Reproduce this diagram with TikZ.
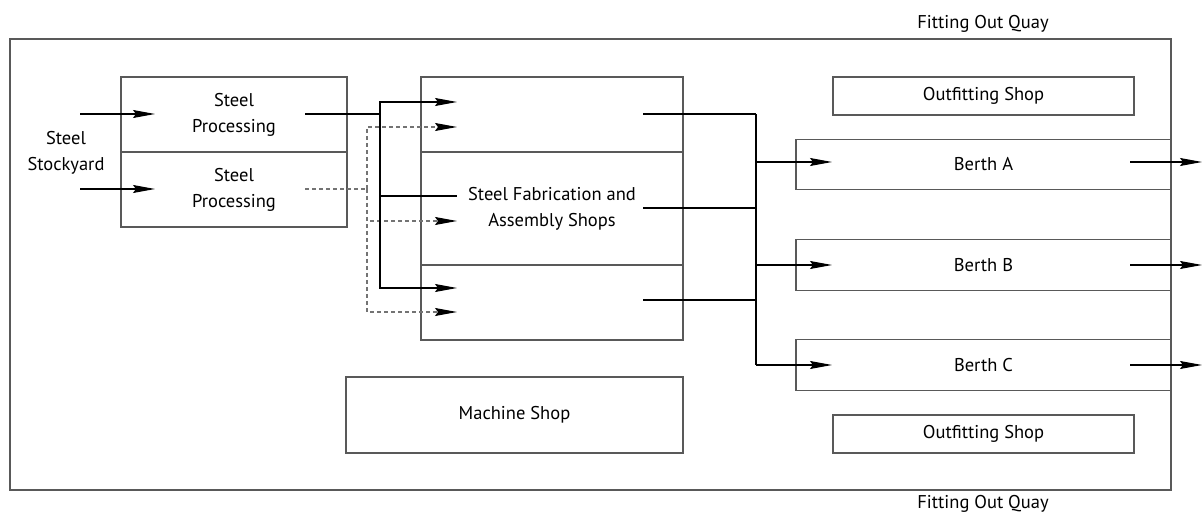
\documentclass[tikz,border=0pt]{standalone}
\usepackage{fontspec}
\setmainfont{PT Sans}
\usetikzlibrary{arrows.meta,calc,positioning}

\begin{document}
\begin{tikzpicture}[x=1pt,y=-1pt,
  >={Stealth[length=22pt,width=8pt,inset=3pt,color=black]},
  shop/.style={draw=black!65,line width=1.2pt,rectangle,inner sep=0pt,
    font=\fontsize{18.5}{26}\selectfont,align=center},
  lbl/.style={font=\fontsize{18.5}{25.5}\selectfont,align=center},
  flow/.style={line width=1.1pt},
  dflow/.style={line width=1.1pt,draw=black!55,dash pattern=on 4pt off 3pt}]
  \useasboundingbox (0,0) rectangle (1203,513);
  \node[shop,minimum width=1161pt,minimum height=451pt] (quay) at (590.5,264.5) {};
  \node[lbl] (quayN) at (983,24) {Fitting Out Quay};
  \node[lbl] (quayS) at (983,504) {Fitting Out Quay};
  \node[lbl] (yard) at (66,153) {Steel\\Stockyard};
  \foreach \n/\y in {1/114.5,2/189.5} {
    \node[shop,minimum width=226pt,minimum height=75pt] (sp\n) at (234,\y) {Steel\\Processing};
  }
  \node[shop,minimum width=262pt,minimum height=263pt] (fab) at (552,208.5) {Steel Fabrication and\\Assembly Shops};
  \draw[draw=black!65,line width=1.2pt] (fab.west |- 0,152) -- (fab.east |- 0,152);
  \draw[draw=black!65,line width=1.2pt] (fab.west |- 0,265) -- (fab.east |- 0,265);
  \node[shop,minimum width=337pt,minimum height=76pt] (mach) at (514.5,415) {Machine Shop};
  \node[shop,minimum width=301pt,minimum height=38pt] (outN) at (983.5,96) {Outfitting Shop};
  \node[shop,minimum width=301pt,minimum height=38pt] (outS) at (983.5,434) {Outfitting Shop};
  \foreach \b/\y in {A/164.5,B/265,C/365} {
    \node[shop,minimum width=375pt,minimum height=50.5pt] (berth\b) at (983.5,\y) {Berth \b};
  }
  % stockyard to processing
  \foreach \n/\y in {1/114,2/189} {
    \coordinate (yard\n) at (80,\y);
    \coordinate (spin\n) at (155,\y);
    \draw[flow,->] (yard\n) -- (spin\n);
  }
  % processing to fabrication
  \coordinate (spout1) at (305,114);
  \coordinate (spout2) at (305,189);
  \coordinate (busA) at (380,196);
  \coordinate (busB) at (367,189);
  \foreach \n/\y in {1/102,2/196,3/288} {\coordinate (fa\n) at (457,\y);}
  \foreach \n/\y in {1/127,2/221,3/312} {\coordinate (fb\n) at (457,\y);}
  \draw[dflow] (spout2) -- (busB);
  \draw[dflow,->] (busB) |- (fb1);
  \draw[dflow,->] (busB) |- (fb2);
  \draw[dflow,->] (busB) |- (fb3);
  \draw[flow] (spout1) -| (busA) -- (fa2);
  \draw[flow,->] (busA) |- (fa1);
  \draw[flow,->] (busA) |- (fa3);
  % fabrication to berths
  \coordinate (busC) at (756,114);
  \foreach \n/\y in {1/114,2/208,3/300} {
    \coordinate (fo\n) at (643,\y);
    \draw[flow] (fo\n) -- (fo\n -| busC);
  }
  \foreach \b/\y in {A/162,B/265,C/365} {
    \coordinate (bi\b) at (832,\y);
    \coordinate (bo\b) at (1130,\y);
    \coordinate (sea\b) at (1202,\y);
    \draw[flow,->] (busC |- bi\b) -- (bi\b);
    \draw[flow,->] (bo\b) -- (sea\b);
  }
  \draw[flow] (busC) -- (busC |- biC);
\end{tikzpicture}
\end{document}
